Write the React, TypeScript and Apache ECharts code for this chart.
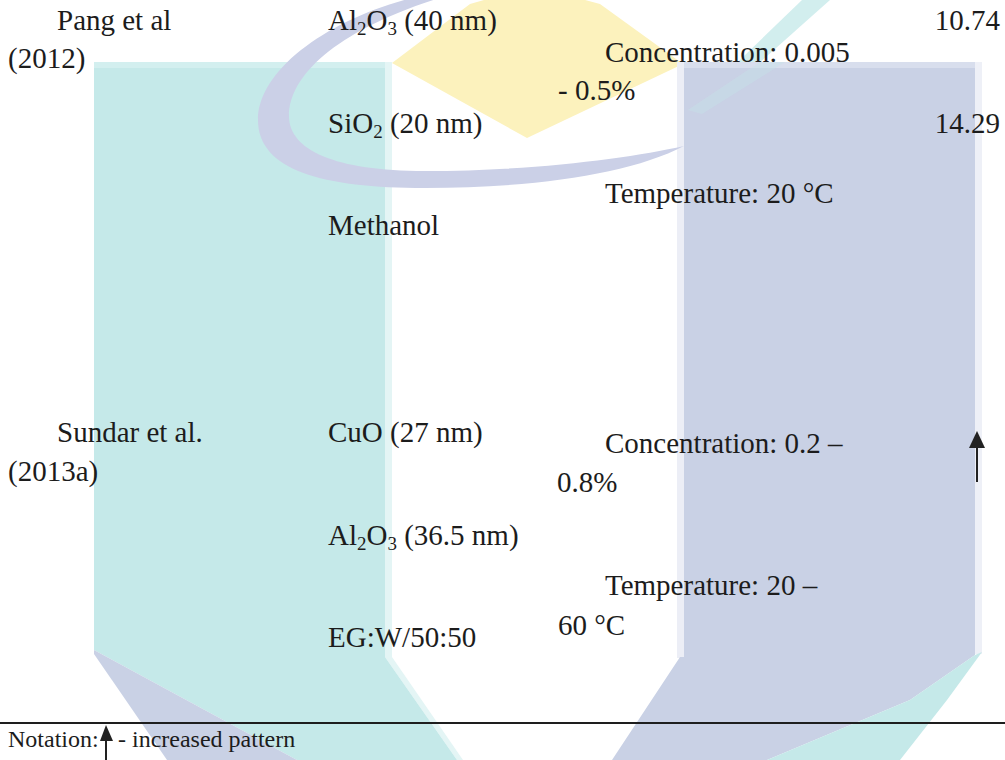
import React, { useEffect, useRef } from "react";
import * as echarts from "echarts";

// ---- content (text of the scanned table page) ----
const studyLines = ["Pang et al", "(2012)", "Sundar et al.", "(2013a)"];
const nanofluidLines = ["Al₂O₃ (40 nm)", "SiO₂ (20 nm)", "Methanol", "CuO (27 nm)", "Al₂O₃ (36.5 nm)", "EG:W/50:50"];
const conditionLines = [
  "Concentration: 0.005",
  "- 0.5%",
  "Temperature: 20 °C",
  "Concentration: 0.2 –",
  "0.8%",
  "Temperature: 20 –",
  "60 °C",
];
const enhancementValues = ["10.74", "14.29"];
const notationLabel = "Notation:";
const notationMeaning = "- increased pattern";

// ---- layout (baselines in px) ----
const studyPos = [[57, 30], [8, 68], [57, 442], [8, 481]];
const nanofluidX = 328;
const nanofluidBase = [30, 133, 235, 442, 545, 647];
const conditionPos = [[605, 62], [558, 100], [605, 203], [605, 453], [557, 492], [605, 595], [558, 635]];
const valueRight = 1000;
const valueBase = [30, 133];

const FONT = "'Liberation Serif', 'Times New Roman', serif";
const FS = 29;
const TXT = "#1c1c1c";

const crescentD =
  "M 420 -4 C 333 16, 258 68, 258 120 C 258 170, 322 188, 425 188 C 535 188, 630 174, 684 146 " +
  "C 630 158, 535 171, 425 171 C 335 171, 289 150, 289 116 C 289 74, 340 28, 446 -4 Z";

function toRich(s: string) {
  let out = "";
  let buf = "";
  const flush = () => {
    if (buf) out += "{m|" + buf + "}";
    buf = "";
  };
  for (const ch of s) {
    if (ch === "₂" || ch === "₃") {
      flush();
      out += "{s|" + (ch === "₂" ? "2" : "3") + "}";
    } else buf += ch;
  }
  flush();
  return out;
}

function textEl(str: string, x: number, baseline: number, align: string = "left", fs: number = FS) {
  const hasSub = /[₂₃]/.test(str);
  const y = baseline - 0.3375 * fs;
  if (hasSub) {
    return {
      type: "text",
      x,
      y,
      z: 10,
      style: {
        text: toRich(str),
        align,
        verticalAlign: "middle",
        fill: TXT,
        fontFamily: FONT,
        fontSize: fs,
        rich: {
          m: { fontFamily: FONT, fontSize: fs, lineHeight: 36, fill: TXT },
          s: { fontFamily: FONT, fontSize: 19, lineHeight: 24, verticalAlign: "bottom", fill: TXT },
        },
      },
    };
  }
  return {
    type: "text",
    x,
    y,
    z: 10,
    style: { text: str, align, verticalAlign: "middle", fill: TXT, fontFamily: FONT, fontSize: fs },
  };
}

let registered = false;

export default function App() {
  const ref = useRef<HTMLDivElement>(null);
  useEffect(() => {
    if (!ref.current) return;
    if (!registered) {
      echarts.graphic.registerShape("crescent", echarts.graphic.extendPath(crescentD, {}));
      registered = true;
    }
    const chart = echarts.init(ref.current, null, { renderer: "svg" });

    const CYAN = "#c5e9e9";
    const PURPLE = "#c9d1e5";
    const elements: any[] = [];

    // watermark: yellow diamond
    elements.push({
      type: "polygon",
      z: 1,
      shape: { points: [[392, 63], [470, 4], [533, -14], [600, 4], [683, 64], [527, 138]] },
      style: { fill: "#fcf2bd" },
    });
    // cyan streak (upper right)
    elements.push({
      type: "polygon",
      z: 1,
      shape: { points: [[802, 0], [830, 0], [702, 114], [688, 110]] },
      style: { fill: "#d2eeee" },
    });
    // cyan pillar
    elements.push({
      type: "polygon",
      z: 2,
      shape: { points: [[385, 62], [392, 62], [392, 657], [463, 760], [457, 760], [385, 657]] },
      style: { fill: "#e4f5f5" },
    });
    elements.push({
      type: "polygon",
      z: 2,
      shape: { points: [[94, 62], [385, 62], [385, 657], [457, 760], [297, 760], [94, 650]] },
      style: { fill: CYAN },
    });
    elements.push({ type: "rect", z: 2, shape: { x: 94, y: 62, width: 291, height: 6 }, style: { fill: "#d3efef" } });
    // purple strip at lower left
    elements.push({
      type: "polygon",
      z: 2,
      shape: { points: [[94, 650], [297, 760], [167, 760], [94, 654]] },
      style: { fill: PURPLE },
    });
    // purple pillar
    elements.push({ type: "rect", z: 2, shape: { x: 677, y: 62, width: 7, height: 596 }, style: { fill: "#eceef6" } });
    elements.push({ type: "rect", z: 2, shape: { x: 975, y: 62, width: 7, height: 592 }, style: { fill: "#eef0f7" } });
    elements.push({
      type: "polygon",
      z: 2,
      shape: {
        points: [[684, 62], [975, 62], [975, 655], [910, 700], [767, 760], [612, 760], [680, 657], [684, 657]],
      },
      style: { fill: PURPLE },
    });
    elements.push({ type: "rect", z: 2, shape: { x: 684, y: 62, width: 291, height: 6 }, style: { fill: "#d8deed" } });
    // cyan strip at lower right
    elements.push({
      type: "polygon",
      z: 2,
      shape: { points: [[975, 655], [982, 652], [947, 700], [900, 760], [767, 760], [910, 700]] },
      style: { fill: CYAN },
    });
    // faint streak over purple
    elements.push({
      type: "polygon",
      z: 3,
      shape: { points: [[760, 62], [785, 62], [702, 114], [688, 110]] },
      style: { fill: "#c5e3e8", opacity: 0.4 },
    });
    // purple crescent
    elements.push({
      type: "crescent",
      z: 3,
      x: 0,
      y: 0,
      style: { fill: "#cbd0e7" },
    });

    // texts
    studyLines.forEach((t, i) => elements.push(textEl(t, studyPos[i][0], studyPos[i][1])));
    nanofluidLines.forEach((t, i) => elements.push(textEl(t, nanofluidX, nanofluidBase[i])));
    conditionLines.forEach((t, i) => elements.push(textEl(t, conditionPos[i][0], conditionPos[i][1])));
    enhancementValues.forEach((t, i) => elements.push(textEl(t, valueRight, valueBase[i], "right")));

    // increase arrow in the table
    elements.push({
      type: "line",
      z: 10,
      shape: { x1: 977, y1: 445, x2: 977, y2: 482 },
      style: { stroke: "#222", lineWidth: 2 },
    });
    elements.push({
      type: "polygon",
      z: 10,
      shape: { points: [[969, 448], [977, 431], [985, 448]] },
      style: { fill: "#222" },
    });

    // separator rule
    elements.push({
      type: "line",
      z: 10,
      shape: { x1: 0, y1: 723, x2: 1005, y2: 723 },
      style: { stroke: "#1e1e1e", lineWidth: 2 },
    });

    // notation
    elements.push(textEl(notationLabel, 8, 747, "left", 24));
    elements.push(textEl(notationMeaning, 118, 747, "left", 24));
    elements.push({
      type: "line",
      z: 10,
      shape: { x1: 106, y1: 738, x2: 106, y2: 760 },
      style: { stroke: "#222", lineWidth: 2 },
    });
    elements.push({
      type: "polygon",
      z: 10,
      shape: { points: [[100, 741], [106, 725], [113, 741]] },
      style: { fill: "#222" },
    });

    chart.setOption({
      animation: false,
      backgroundColor: "#ffffff",
      graphic: { elements },
    });
    return () => chart.dispose();
  }, []);

  return (
    <div
      ref={ref}
      style={{ position: "fixed", left: 0, top: 0, width: 1005, height: 760, background: "#fff" }}
    />
  );
}
